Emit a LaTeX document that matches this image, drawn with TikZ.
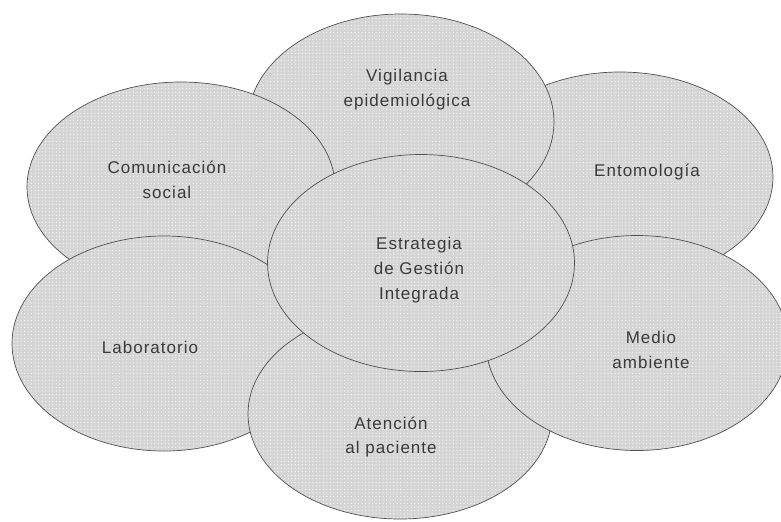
\documentclass[tikz,border=0pt]{standalone}
\usepackage{fontspec}
\setmainfont{Liberation Sans}[LetterSpace=6]
\usetikzlibrary{shapes.geometric,patterns}
\definecolor{blobgray}{HTML}{D5D5D5}
\definecolor{rimgray}{HTML}{505050}
\definecolor{txtgray}{HTML}{3A3A3A}
\tikzstyle{blob}=[ellipse,draw=rimgray,line width=0.6pt,inner sep=0pt,preaction={fill=blobgray},pattern=dots,pattern color=white]
\tikzstyle{lbl}=[text=txtgray,align=center,inner sep=0pt,font=\fontsize{14.5}{21.3}\selectfont]
\tikzset{radii/.style 2 args={minimum width=#1*0.06cm,minimum height=#2*0.06cm}}

\begin{document}
\begin{tikzpicture}[x=0.03cm,y=-0.03cm]
\clip (0,0) rectangle (781,521);

\node[blob,radii={153}{105}] (ento) at (620,177) {};
\node[blob,radii={153}{108}] (vigil) at (401,122) {};
\node[blob,radii={154}{105}] (comun) at (181,187) {};
\node[blob,radii={152}{107.5}] (labo) at (164,343.5) {};
\node[blob,radii={152}{105}] (atenc) at (400,414) {};
\node[blob,radii={151}{107.5}] (medio) at (637,343) {};
\node[blob,radii={153.5}{108.5}] (centro) at (421,263) {};

\node[lbl] (t-vigil) at (407,90) {Vigilancia\\epidemiológica};
\node[lbl] (t-comun) at (167,180) {Comunicación\\social};
\node[lbl] (t-ento) at (647,172) {Entomología};
\node[lbl] (t-centro) at (419,270) {Estrategia\\de Gestión\\Integrada};
\node[lbl] (t-labo) at (150,347) {Laboratorio};
\node[lbl] (t-medio) at (651,350) {Medio\\ambiente};
\node[lbl] (t-atenc) at (391,437) {Atención\\al paciente};

\end{tikzpicture}
\end{document}
